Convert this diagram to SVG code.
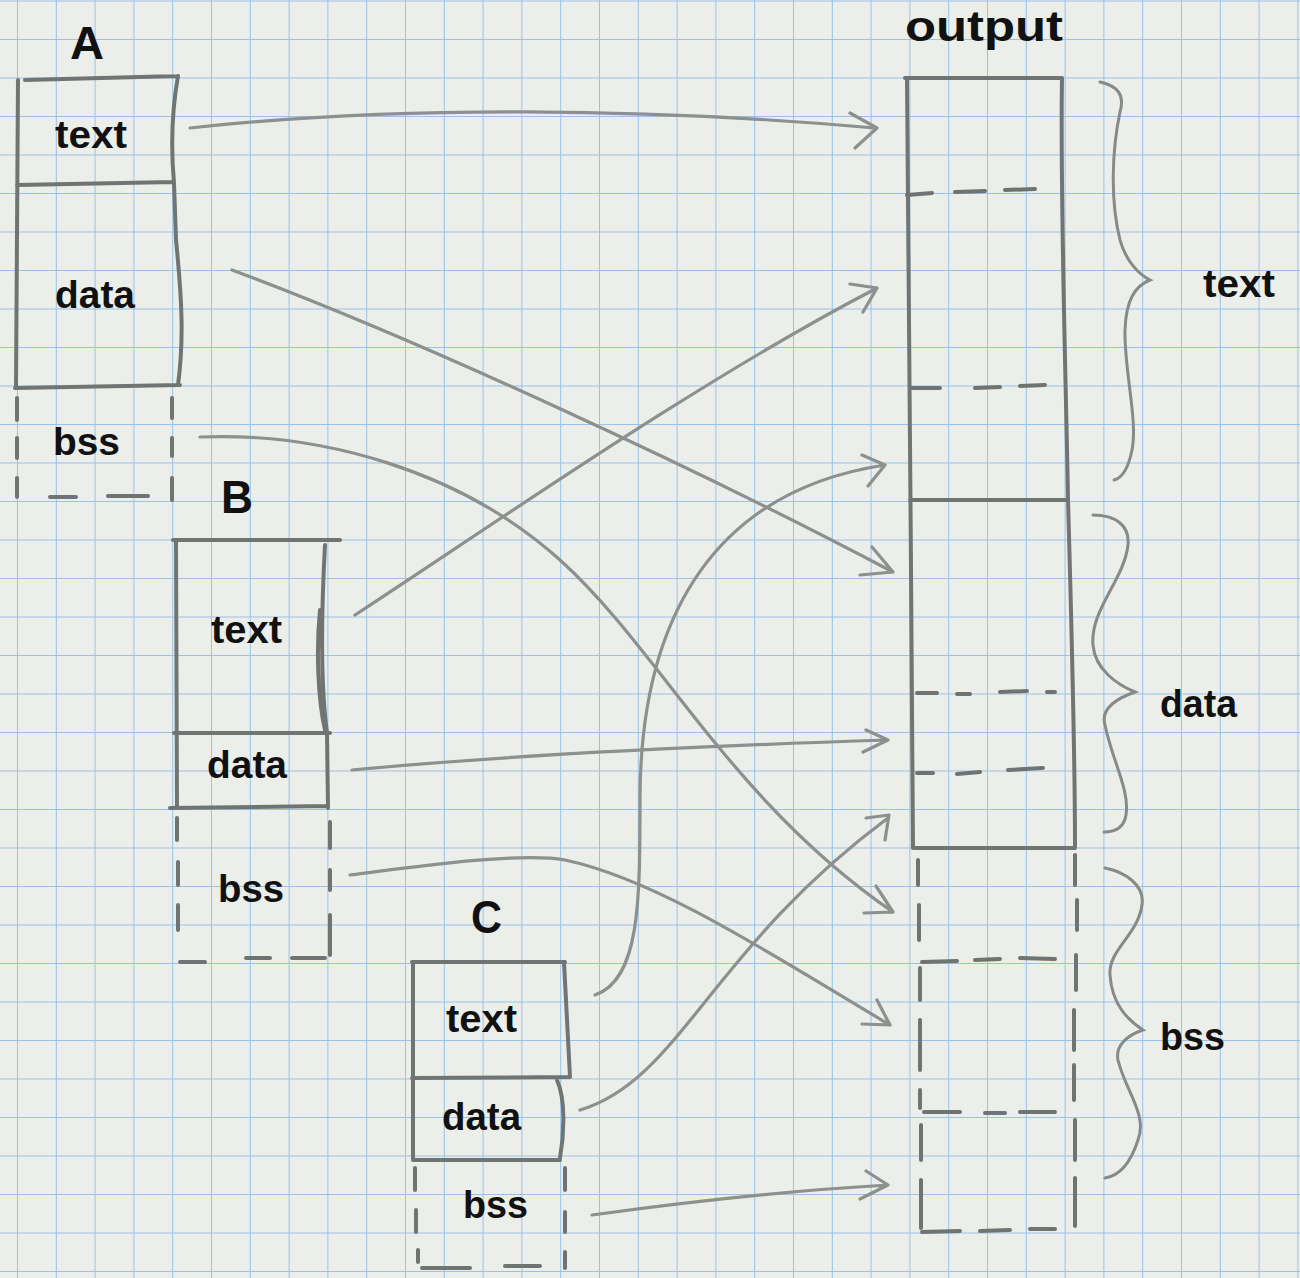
<svg xmlns="http://www.w3.org/2000/svg" width="1300" height="1278" viewBox="0 0 1300 1278">
<defs>
<pattern id="grid" width="38.8" height="38.5" patternUnits="userSpaceOnUse" x="17" y="0.5">
<path d="M0,0 V38.5 M0,0 H38.8" fill="none" stroke="#98c2ea" stroke-width="2"/>
</pattern>
<style>
.box{fill:none;stroke:#707472;stroke-width:4;stroke-linecap:round;stroke-linejoin:round}
.dash{fill:none;stroke:#6f7371;stroke-width:4;stroke-linecap:round}
.conn{fill:none;stroke:#8c908e;stroke-width:3.2;stroke-linecap:round;stroke-linejoin:round}
.brace{fill:none;stroke:#868a88;stroke-width:3;stroke-linecap:round}
.lbl{font-family:"Liberation Sans",Arial,sans-serif;font-weight:bold;fill:#111}
.sec{font-size:38px}
.ttl{font-size:46px}
</style>
</defs>
<rect width="1300" height="1278" fill="#eceee9"/>
<rect width="1300" height="1278" fill="url(#grid)"/>

<g id="node-A">
<path class="box" d="M25,80 L178,76 M18,80 L16,388 M178,76 C172,110 171,150 174,183 L176,240 C182,300 184,340 178,385 M17,185 L174,182 M15,388 L180,385"/>
<path class="dash" d="M17,398 V420 M17,438 V458 M17,478 V497 M172,398 V418 M172,438 V456 M172,478 V500 M50,497 H76 M108,496 H148"/>
<text class="lbl ttl" x="70" y="59" textLength="34" lengthAdjust="spacingAndGlyphs">A</text>
<text class="lbl sec" x="55" y="148" textLength="72" lengthAdjust="spacingAndGlyphs">text</text>
<text class="lbl sec" x="55" y="308" textLength="80" lengthAdjust="spacingAndGlyphs">data</text>
<text class="lbl sec" x="53" y="455" textLength="67" lengthAdjust="spacingAndGlyphs">bss</text>
</g>

<g id="node-B">
<path class="box" d="M173,540 L340,540 M176,540 L177,808 M325,545 C322,600 320,680 327,733 M320,610 C316,650 318,700 325,730 M174,733 L330,733 M327,733 L328,808 M170,808 L328,806"/>
<path class="dash" d="M177,818 V840 M178,862 V885 M178,905 V930 M330,822 V848 M330,870 V890 M330,915 V955 M180,962 H205 M246,958 H270 M292,958 H325"/>
<text class="lbl ttl" x="221" y="513" textLength="32" lengthAdjust="spacingAndGlyphs">B</text>
<text class="lbl sec" x="211" y="643" textLength="71" lengthAdjust="spacingAndGlyphs">text</text>
<text class="lbl sec" x="207" y="778" textLength="80" lengthAdjust="spacingAndGlyphs">data</text>
<text class="lbl sec" x="218" y="902" textLength="66" lengthAdjust="spacingAndGlyphs">bss</text>
</g>

<g id="node-C">
<path class="box" d="M412,962 L565,962 M413,962 L413,1160 M564,962 L570,1077 M412,1078 L570,1077 M557,1080 C566,1100 564,1135 560,1158 M413,1160 L560,1160"/>
<path class="dash" d="M415,1168 V1190 M416,1210 V1232 M418,1250 V1262 M565,1168 V1190 M565,1212 V1232 M565,1252 V1268 M422,1268 H470 M505,1266 H540"/>
<text class="lbl ttl" x="471" y="933" textLength="31" lengthAdjust="spacingAndGlyphs">C</text>
<text class="lbl sec" x="446" y="1032" textLength="71" lengthAdjust="spacingAndGlyphs">text</text>
<text class="lbl sec" x="442" y="1130" textLength="79" lengthAdjust="spacingAndGlyphs">data</text>
<text class="lbl sec" x="463" y="1218" textLength="65" lengthAdjust="spacingAndGlyphs">bss</text>
</g>

<g id="node-output">
<path class="box" d="M905,78 L1062,78 M907,78 C908,300 912,600 913,848 M1062,78 C1060,200 1066,380 1068,500 C1072,640 1075,760 1075,848 M910,500 L1068,500 M915,848 L1075,848"/>
<path class="dash" d="M907,195 L932,193 M955,192 L985,191 M1005,190 L1035,189 M912,388 L940,388 M975,388 L1000,387 M1020,386 L1045,385 M917,693 L937,693 M957,694 L970,694 M1000,692 L1027,691 M1047,692 L1055,692 M917,773 L933,773 M957,774 L980,772 M1008,770 L1043,768"/>
<path class="dash" d="M918,860 V885 M919,905 V940 M920,968 V1000 M920,1020 V1070 M920,1090 V1108 M921,1125 V1160 M921,1180 V1228 M1075,855 V885 M1077,900 V930 M1076,955 V990 M1074,1010 V1050 M1074,1065 V1100 M1075,1120 V1160 M1075,1178 V1226 M922,962 L957,961 M975,960 L1000,959 M1020,958 L1055,959 M924,1112 L960,1112 M985,1113 L1005,1113 M1020,1112 L1055,1112 M922,1232 L960,1231 M980,1231 L1010,1230 M1030,1229 L1055,1229"/>
<text class="lbl" style="font-size:42px" x="905" y="41" textLength="158" lengthAdjust="spacingAndGlyphs">output</text>
<path class="brace" d="M1100,82 C1118,86 1125,95 1120,112 C1112,150 1110,200 1120,240 C1126,262 1140,275 1150,280 C1135,286 1126,300 1125,330 C1124,370 1138,420 1132,450 C1128,470 1122,478 1114,480"/>
<path class="brace" d="M1093,515 C1115,515 1130,525 1128,545 C1124,580 1090,610 1093,645 C1095,670 1118,685 1135,692 C1118,698 1100,708 1105,725 C1112,760 1130,790 1126,815 C1124,828 1115,832 1104,832"/>
<path class="brace" d="M1105,868 C1125,872 1145,885 1142,905 C1138,935 1108,950 1110,975 C1112,1005 1128,1020 1143,1030 C1128,1035 1115,1045 1118,1060 C1125,1090 1148,1115 1138,1140 C1130,1165 1118,1176 1105,1178"/>
<text class="lbl sec" x="1203" y="297" textLength="72" lengthAdjust="spacingAndGlyphs">text</text>
<text class="lbl sec" x="1160" y="717" textLength="77" lengthAdjust="spacingAndGlyphs">data</text>
<text class="lbl sec" x="1160" y="1050" textLength="65" lengthAdjust="spacingAndGlyphs">bss</text>
</g>

<g id="connectors">
<path class="conn" d="M190,128 C400,105 650,108 875,128 M850,113 L877,128 L855,148"/>
<path class="conn" d="M232,270 C420,340 700,470 893,572 M872,547 L893,572 L860,575"/>
<path class="conn" d="M200,437 C320,432 460,470 560,560 C660,650 730,800 893,912 M876,886 L893,912 L864,913"/>
<path class="conn" d="M355,615 C500,520 700,380 877,288 M850,284 L877,288 L863,312"/>
<path class="conn" d="M352,770 C500,756 700,746 888,740 M866,730 L888,740 L863,752"/>
<path class="conn" d="M350,875 C420,866 520,852 565,860 C660,880 780,960 890,1025 M877,1000 L890,1025 L862,1024"/>
<path class="conn" d="M595,995 C640,980 640,900 640,800 C640,610 720,490 885,465 M862,455 L885,465 L868,486"/>
<path class="conn" d="M580,1110 C680,1080 710,950 888,818 M866,818 L889,815 L885,840"/>
<path class="conn" d="M592,1215 C700,1200 800,1190 888,1185 M866,1171 L888,1185 L860,1199"/>
</g>
</svg>
